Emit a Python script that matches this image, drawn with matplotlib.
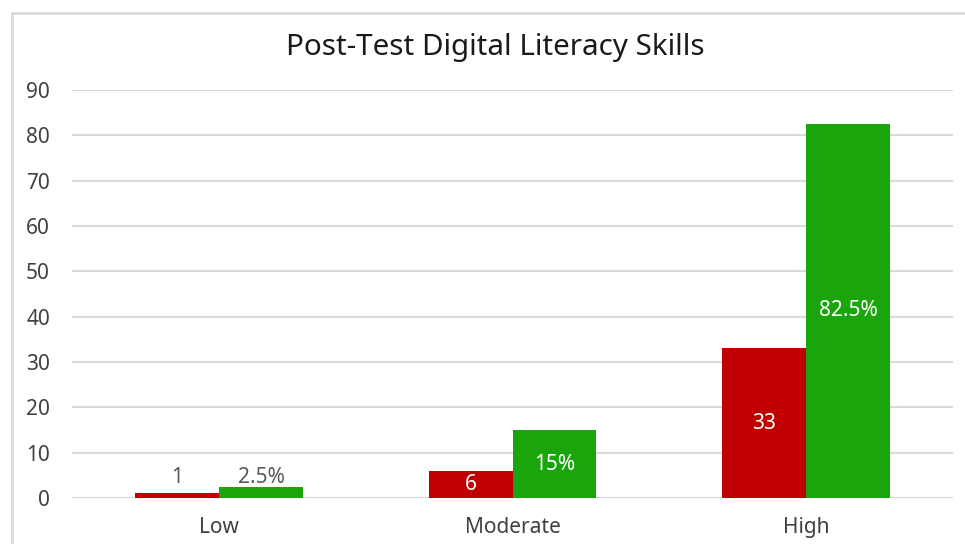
import matplotlib
matplotlib.use("Agg")
from matplotlib import pyplot as plt
from matplotlib.patches import Rectangle
import numpy as np

# data
categories = ["Low", "Moderate", "High"]
counts = [1, 6, 33]
percents = [2.5, 15, 82.5]
count_labels = ["1", "6", "33"]
percent_labels = ["2.5%", "15%", "82.5%"]

red = "#C00000"
green = "#19A50B"
grid_col = "#D9D9D9"
text_col = "#404040"
fs = 15

plt.rcParams["font.family"] = ["Noto Sans", "DejaVu Sans"]

fig = plt.figure(figsize=(9.65, 5.44), dpi=100)
ax = fig.add_axes([72.25 / 965, 46 / 544, 880.5 / 965, 408 / 544])

x = np.arange(len(categories))
w = 0.286
bars_r = ax.bar(x - w / 2, counts, width=w, color=red, zorder=3)
bars_g = ax.bar(x + w / 2, percents, width=w, color=green, zorder=3)

ax.set_xlim(-0.5, len(categories) - 0.5)
ax.set_ylim(0, 90)
ax.set_yticks(range(0, 91, 10))
ax.set_xticks(x)
ax.set_xticklabels(categories)
ax.yaxis.grid(True, color=grid_col, linewidth=1.5, zorder=0)
ax.set_axisbelow(True)
for s in ax.spines.values():
    s.set_visible(False)
ax.tick_params(axis="both", length=0, labelsize=fs, labelcolor=text_col)
ax.tick_params(axis="y", pad=16)
ax.tick_params(axis="x", pad=14)

# data labels: small bars get labels above, others inside centred
for bars, vals, labs in [(bars_r, counts, count_labels), (bars_g, percents, percent_labels)]:
    for b, v, lab in zip(bars, vals, labs):
        cx = b.get_x() + b.get_width() / 2
        if v < 5:
            ax.text(cx, 4.6, lab, ha="center", va="center", fontsize=fs, color="#595959", zorder=4)
        else:
            ax.text(cx, v / 2, lab, ha="center", va="center", fontsize=fs, color="white", zorder=4)

fig.text(495 / 965, 1 - 47 / 544, "Post-Test Digital Literacy Skills", ha="center", va="center",
         fontsize=21.3, color="#1a1a1a")

# chart area border
fig.patches.append(Rectangle((11.5 / 965, -0.1), 1.2, 1.1 - 13 / 544, transform=fig.transFigure,
                             fill=False, edgecolor=grid_col, linewidth=2, clip_on=False))

fig.savefig("out.png", dpi=100)
